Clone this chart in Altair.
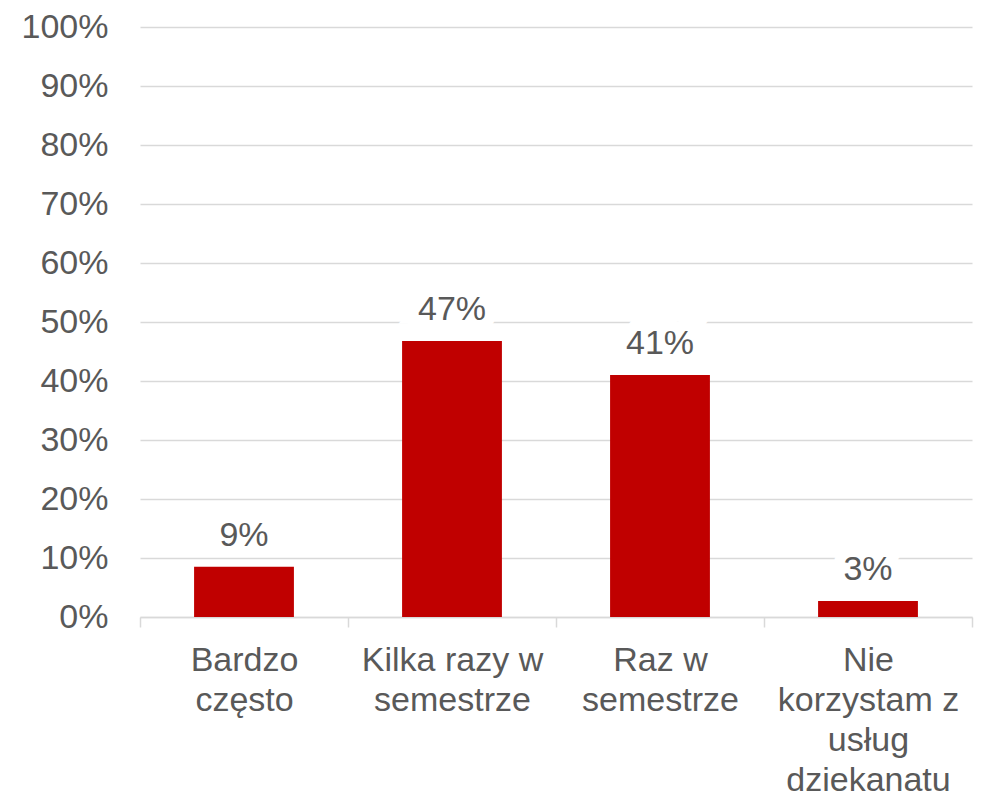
import altair as alt
import pandas as pd

categories = [
    "Bardzo\nczęsto",
    "Kilka razy w\nsemestrze",
    "Raz w\nsemestrze",
    "Nie\nkorzystam z\nusług\ndziekanatu",
]
values = [0.085, 0.468, 0.41, 0.027]
value_labels = ["9%", "47%", "41%", "3%"]
y_ticks = [0, 0.1, 0.2, 0.3, 0.4, 0.5, 0.6, 0.7, 0.8, 0.9, 1.0]

df = pd.DataFrame({"category": categories, "value": values, "label": value_labels})

FONT = "Liberation Sans"
GRAY = "#595959"
LINE = "#d9d9d9"

x_enc = alt.X(
    "category:N",
    sort=categories,
    scale=alt.Scale(paddingInner=0, paddingOuter=0),
    axis=alt.Axis(
        title=None,
        labelAngle=0,
        labelExpr="split(datum.label, '\\n')",
        labelFont=FONT,
        labelFontSize=34,
        labelColor=GRAY,
        labelLineHeight=40,
        labelPadding=16,
        labelLimit=0,
        tickBand="extent",
        tickSize=10,
        tickColor=LINE,
        tickWidth=1.5,
        domainColor=LINE,
        domainWidth=1.5,
        grid=False,
    ),
)
y_enc = alt.Y(
    "value:Q",
    scale=alt.Scale(domain=[0, 1]),
    axis=alt.Axis(
        title=None,
        values=y_ticks,
        format=".0%",
        labelFont=FONT,
        labelFontSize=34,
        labelColor=GRAY,
        labelPadding=32,
        ticks=False,
        domain=False,
        grid=True,
        gridColor=LINE,
        gridWidth=1.5,
    ),
)

base = alt.Chart(df).encode(x=x_enc, y=y_enc)

bars = base.mark_bar(color="#C00000", width=alt.RelativeBandSize(0.48))

halo = base.mark_text(
    dy=-21,
    baseline="alphabetic",
    font=FONT,
    fontSize=34,
    color="white",
    stroke="white",
    strokeWidth=22,
    strokeJoin="miter",
).encode(text="label:N")

labels = base.mark_text(
    dy=-21,
    baseline="alphabetic",
    font=FONT,
    fontSize=34,
    color=GRAY,
).encode(text="label:N")

chart = (
    alt.layer(bars, halo, labels)
    .properties(
        width=832,
        height=590,
        autosize=alt.AutoSizeParams(type="none"),
        padding={"left": 132, "top": 19, "right": 4, "bottom": 176},
    )
    .configure_view(stroke=None)
)

chart.save("out.html", embed_options={"renderer": "svg", "actions": False})
